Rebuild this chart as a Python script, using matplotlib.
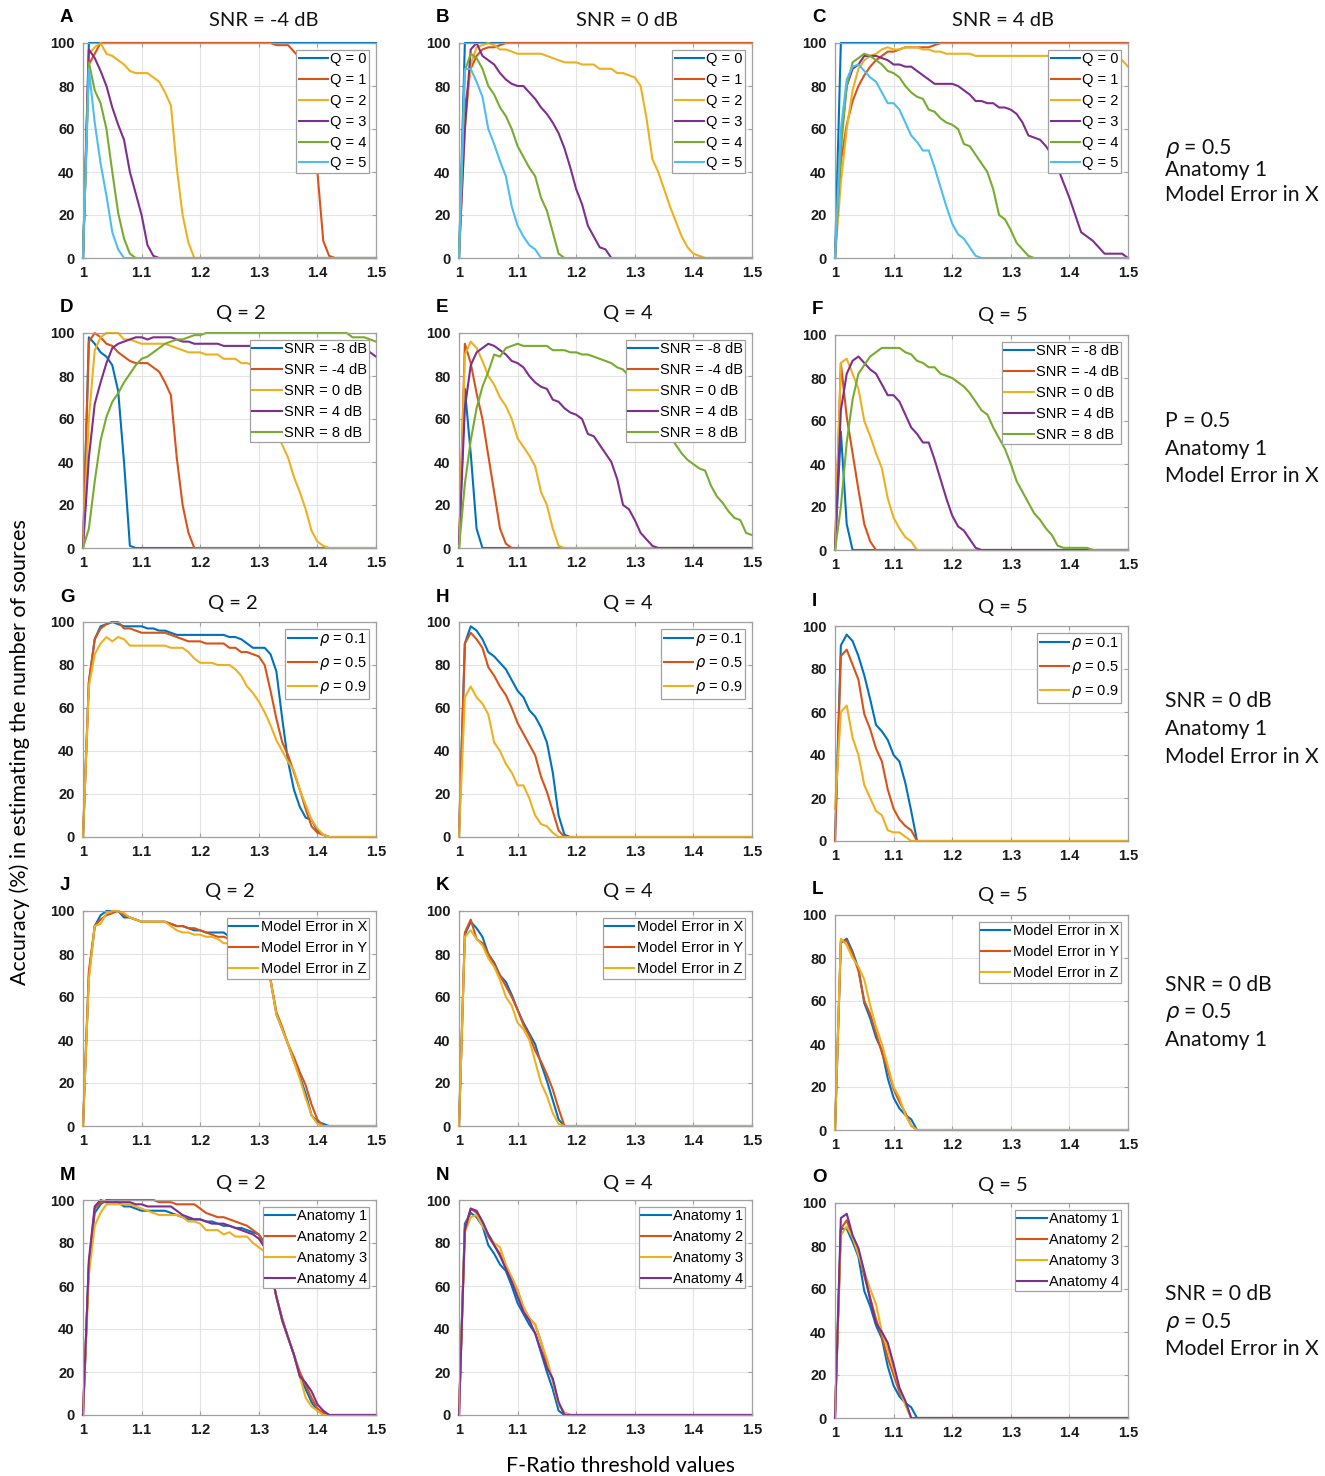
import numpy as np
import matplotlib
matplotlib.use('Agg')
import matplotlib.pyplot as plt

# F-ratio thresholds, read at 0.01 steps
thresholds = np.round(np.arange(1.00, 1.505, 0.01), 2)

# each list: accuracy (%) at 1.00, 1.01, ... ; last value holds to 1.50
# A: SNR = -4 dB
A_q0 = [0, 100]
A_q1 = [0, 90, 95] + [100] * 30 + [99, 99, 99, 96, 93, 85, 65, 40, 8, 1, 0]
A_q2 = [0, 95, 98, 100, 95, 94, 92, 90, 87, 86, 86, 86, 84, 82, 77, 71, 42, 20, 7, 0]
A_q3 = [0, 97, 93, 87, 80, 70, 62, 55, 40, 30, 20, 6, 1, 0]
A_q4 = [0, 91, 78, 72, 60, 40, 21, 9, 2, 0]
A_q5 = [0, 88, 63, 44, 29, 12, 4, 0]
# B: SNR = 0 dB
B_q0 = [0, 100]
B_q1 = [0, 70, 88, 94, 97, 98, 98, 99, 100]
B_q2 = [0, 60, 90, 98, 99, 100, 99, 97, 97, 96, 95, 95, 95, 95, 95, 94, 93, 92, 91, 91,
        91, 90, 90, 90, 88, 88, 88, 86, 86, 85, 84, 80, 65, 46, 40, 32, 24, 17, 10, 5, 2, 1, 0]
B_q3 = [2, 60, 97, 100, 94, 92, 90, 86, 83, 81, 80, 80, 77, 74, 70, 67, 63, 58, 51, 42,
        32, 25, 15, 10, 5, 4, 0]
B_q4 = [0, 87, 95, 93, 88, 80, 76, 70, 66, 60, 52, 47, 42, 38, 28, 22, 12, 2, 0]
B_q5 = [0, 88, 88, 82, 75, 60, 53, 45, 38, 24, 15, 10, 6, 4, 0]
# C: SNR = 4 dB
C_q0 = [0, 100]
C_q1 = [0, 45, 62, 73, 80, 85, 89, 92, 94, 96, 96, 97, 98, 98, 98, 98, 98, 99, 100]
C_q2 = [0, 35, 60, 78, 88, 92, 94, 95, 97, 98, 97, 97, 98, 98, 98, 97, 97, 96, 96, 95,
        95, 95, 95, 95, 94] + [94] * 23 + [93, 92, 89]
C_q3 = [0, 55, 80, 88, 90, 94, 94, 94, 93, 92, 90, 90, 89, 89, 87, 85, 83, 81, 81, 81,
        81, 80, 78, 76, 73, 73, 72, 72, 70, 70, 69, 67, 63, 57, 56, 55, 52, 48, 42, 35,
        28, 20, 12, 10, 8, 5, 2, 2, 2, 2, 0]
C_q4 = [0, 50, 80, 91, 93, 95, 94, 92, 90, 87, 86, 84, 80, 77, 75, 74, 69, 68, 65, 63,
        62, 60, 53, 52, 48, 44, 40, 32, 20, 18, 13, 7, 4, 1, 0]
C_q5 = [0, 60, 83, 89, 90, 87, 84, 82, 77, 72, 72, 69, 63, 57, 54, 50, 50, 42, 33, 24,
        16, 11, 9, 5, 1, 0]
# D: Q = 2
D_m8 = [0, 98, 95, 91, 89, 85, 73, 40, 1, 0]
D_m4 = [0, 96, 100, 98, 95, 94, 91, 89, 87, 86, 86, 86, 84, 82, 77, 71, 42, 20, 7, 0]
D_0 = [0, 60, 92, 98, 100, 100, 100, 97, 97, 96, 95, 95, 95, 95, 95, 94, 93, 92, 91, 91,
       91, 90, 90, 90, 88, 88, 88, 86, 86, 85, 84, 80, 68, 55, 48, 42, 33, 26, 18, 8, 3, 1, 0]
D_4 = [0, 42, 67, 77, 86, 93, 95, 96, 97, 98, 98, 97, 98, 98, 98, 98, 97, 96, 96, 95,
       95, 95, 95, 95, 94] + [94] * 21 + [93, 92, 92, 91, 89]
D_8 = [0, 9, 31, 50, 61, 68, 72, 77, 81, 85, 88, 89, 91, 93, 95, 96, 97, 97, 98, 99,
       99, 100] + [100] * 23 + [100, 98, 98, 98, 97, 96]
# E: Q = 4
E_m8 = [0, 74, 44, 9, 0]
E_m4 = [0, 95, 86, 72, 60, 43, 26, 9, 2, 0]
E_0 = [0, 90, 96, 93, 87, 80, 76, 70, 66, 60, 51, 47, 43, 38, 26, 20, 9, 1, 0]
E_4 = [2, 65, 85, 91, 93, 95, 94, 92, 90, 87, 86, 84, 80, 77, 75, 74, 69, 68, 65, 63,
       62, 60, 53, 52, 48, 44, 40, 32, 20, 18, 13, 7, 4, 1, 0]
E_8 = [0, 30, 50, 65, 75, 82, 90, 89, 93, 94, 95, 94, 94, 94, 94, 94, 92, 92, 92, 91,
       91, 90, 90, 89, 88, 87, 86, 84, 83, 80, 77, 73, 68, 64, 60, 56, 52, 48, 44, 41,
       39, 37, 36, 29, 24, 21, 17, 14, 13, 7, 6]
# F: Q = 5
F_m8 = [0, 55, 12, 0]
F_m4 = [0, 87, 62, 45, 28, 12, 4, 0]
F_0 = [0, 87, 89, 82, 75, 60, 53, 45, 38, 24, 15, 10, 6, 4, 0]
F_4 = [0, 65, 82, 88, 90, 87, 84, 82, 77, 72, 72, 69, 63, 57, 54, 50, 50, 42, 33, 24,
       16, 11, 9, 5, 1, 0]
F_8 = [0, 20, 50, 70, 82, 86, 90, 92, 94, 94, 94, 94, 92, 91, 88, 87, 85, 85, 82, 81,
       80, 78, 76, 73, 69, 65, 63, 57, 52, 47, 40, 32, 27, 22, 17, 14, 10, 7, 2, 1,
       1, 1, 1, 1, 0]
# G: Q = 2, correlation
G_01 = [0, 72, 92, 98, 99, 100, 99, 98, 98, 98, 98, 97, 97, 96, 96, 95, 94, 94, 94, 94,
        94, 94, 94, 94, 94, 93, 93, 92, 90, 88, 88, 88, 85, 77, 55, 35, 22, 14, 9, 8, 3, 1, 0]
G_05 = [0, 72, 92, 97, 99, 100, 100, 97, 97, 96, 95, 95, 95, 95, 95, 94, 93, 92, 91, 91,
        91, 90, 90, 90, 90, 88, 88, 86, 86, 85, 84, 80, 68, 55, 44, 38, 30, 22, 13, 5, 2, 1, 0]
G_09 = [0, 70, 85, 90, 93, 91, 93, 92, 89, 89, 89, 89, 89, 89, 89, 88, 88, 88, 86, 83,
        81, 81, 81, 80, 80, 80, 78, 75, 70, 67, 63, 58, 52, 45, 40, 35, 31, 22, 15, 8, 4, 1, 0]
# H: Q = 4
H_01 = [0, 90, 98, 96, 92, 86, 84, 81, 78, 73, 68, 65, 59, 56, 51, 44, 30, 10, 1, 0]
H_05 = [2, 90, 95, 92, 88, 79, 75, 70, 66, 60, 53, 48, 43, 38, 28, 21, 12, 3, 0]
H_09 = [0, 65, 70, 65, 62, 57, 44, 40, 34, 30, 24, 24, 18, 10, 6, 5, 2, 0]
# I: Q = 5
I_01 = [0, 91, 96, 93, 86, 77, 66, 54, 51, 47, 40, 37, 27, 14, 0]
I_05 = [0, 86, 89, 82, 75, 59, 52, 43, 37, 24, 15, 10, 7, 5, 0]
I_09 = [15, 60, 63, 48, 40, 26, 20, 14, 12, 5, 4, 4, 2, 0]
# J: Q = 2, model error
J_x = [0, 70, 93, 98, 100, 100, 100, 97, 97, 96, 95, 95, 95, 95, 95, 94, 93, 93, 92, 91,
       91, 90, 90, 90, 90, 88, 86, 85, 84, 82, 80, 76, 68, 52, 45, 38, 30, 23, 15, 5, 2, 1, 0]
J_y = [0, 72, 93, 96, 98, 99, 100, 98, 97, 96, 95, 95, 95, 95, 95, 94, 93, 93, 92, 92,
       91, 90, 89, 88, 88, 87, 86, 85, 84, 82, 80, 76, 68, 53, 46, 38, 32, 25, 19, 10, 3, 0]
J_z = [0, 68, 93, 94, 99, 100, 100, 99, 97, 96, 95, 95, 95, 95, 95, 93, 91, 90, 90, 89,
       89, 88, 88, 87, 85, 85, 84, 83, 82, 81, 79, 75, 68, 52, 45, 38, 30, 22, 13, 5, 1, 0]
# K: Q = 4
K_x = [0, 89, 95, 92, 88, 80, 76, 70, 67, 61, 54, 48, 43, 38, 29, 21, 12, 3, 0]
K_y = [0, 90, 96, 87, 85, 80, 75, 70, 65, 60, 54, 47, 42, 35, 30, 24, 17, 8, 0]
K_z = [0, 88, 91, 87, 84, 78, 74, 68, 60, 56, 48, 45, 40, 30, 20, 14, 6, 1, 0]
# L: Q = 5
L_x = [0, 87, 89, 83, 75, 59, 52, 43, 37, 24, 15, 10, 7, 5, 0]
L_y = [0, 88, 88, 82, 74, 60, 54, 45, 36, 28, 19, 13, 8, 2, 0]
L_z = [0, 89, 86, 80, 76, 70, 58, 48, 40, 30, 20, 15, 7, 2, 0]
# M: Q = 2, anatomy
M_1 = [0, 70, 94, 98, 100, 100, 99, 97, 97, 96, 95, 95, 95, 95, 95, 94, 93, 92, 91, 91,
       91, 90, 90, 89, 88, 88, 87, 87, 86, 85, 84, 80, 68, 55, 44, 36, 28, 18, 12, 6, 2, 1, 0]
M_2 = [0, 70, 96, 99, 99, 100, 100, 100, 100, 100, 100, 100, 100, 99, 99, 99, 98, 98, 98, 98,
       96, 94, 93, 92, 92, 91, 90, 89, 88, 86, 84, 78, 68, 55, 45, 36, 28, 20, 14, 8, 3, 1, 0]
M_3 = [0, 65, 88, 94, 98, 98, 98, 98, 98, 97, 96, 95, 94, 93, 93, 93, 93, 92, 90, 90,
       89, 86, 86, 86, 84, 85, 83, 83, 83, 80, 78, 76, 68, 55, 44, 36, 28, 18, 8, 4, 2, 0]
M_4 = [0, 72, 97, 100, 99, 99, 99, 99, 99, 98, 98, 97, 97, 97, 97, 97, 95, 93, 92, 91,
       91, 90, 89, 89, 89, 88, 87, 86, 85, 84, 82, 78, 68, 55, 44, 36, 28, 18, 15, 11, 5, 2, 0]
# N: Q = 4
N_1 = [0, 89, 94, 92, 88, 79, 75, 70, 67, 60, 52, 47, 42, 38, 29, 20, 12, 2, 0]
N_2 = [0, 87, 96, 94, 90, 83, 79, 75, 68, 64, 58, 50, 45, 42, 34, 24, 16, 5, 1, 0]
N_3 = [2, 85, 92, 93, 88, 84, 80, 78, 70, 64, 58, 50, 45, 42, 34, 26, 16, 5, 1, 0]
N_4 = [0, 86, 96, 95, 90, 84, 79, 74, 68, 62, 55, 48, 44, 38, 30, 22, 17, 6, 0]
# O: Q = 5
O_1 = [0, 88, 88, 82, 75, 59, 52, 43, 37, 24, 15, 10, 7, 5, 0]
O_2 = [0, 88, 92, 84, 77, 66, 56, 46, 38, 28, 20, 12, 7, 0]
O_3 = [2, 85, 89, 84, 76, 68, 60, 53, 40, 32, 23, 14, 6, 0]
O_4 = [0, 93, 95, 85, 79, 68, 55, 44, 40, 35, 25, 14, 8, 0]

q_labels = ['Q = 0', 'Q = 1', 'Q = 2', 'Q = 3', 'Q = 4', 'Q = 5']
snr_labels = ['SNR = -8 dB', 'SNR = -4 dB', 'SNR = 0 dB', 'SNR = 4 dB', 'SNR = 8 dB']
rho_labels = [r'$\rho$ = 0.1', r'$\rho$ = 0.5', r'$\rho$ = 0.9']
err_labels = ['Model Error in X', 'Model Error in Y', 'Model Error in Z']
anat_labels = ['Anatomy 1', 'Anatomy 2', 'Anatomy 3', 'Anatomy 4']
x_ticks = [1.0, 1.1, 1.2, 1.3, 1.4, 1.5]
x_ticklabels = ['1', '1.1', '1.2', '1.3', '1.4', '1.5']
y_ticks = [0, 20, 40, 60, 80, 100]

row_notes = [
    [r'$\rho$ = 0.5', 'Anatomy 1', 'Model Error in X'],
    ['P = 0.5', 'Anatomy 1', 'Model Error in X'],
    ['SNR = 0 dB', 'Anatomy 1', 'Model Error in X'],
    ['SNR = 0 dB', r'$\rho$ = 0.5', 'Anatomy 1'],
    ['SNR = 0 dB', r'$\rho$ = 0.5', 'Model Error in X'],
]

panels = [
    ('A', 'SNR = -4 dB', [A_q0, A_q1, A_q2, A_q3, A_q4, A_q5], q_labels),
    ('B', 'SNR = 0 dB', [B_q0, B_q1, B_q2, B_q3, B_q4, B_q5], q_labels),
    ('C', 'SNR = 4 dB', [C_q0, C_q1, C_q2, C_q3, C_q4, C_q5], q_labels),
    ('D', 'Q = 2', [D_m8, D_m4, D_0, D_4, D_8], snr_labels),
    ('E', 'Q = 4', [E_m8, E_m4, E_0, E_4, E_8], snr_labels),
    ('F', 'Q = 5', [F_m8, F_m4, F_0, F_4, F_8], snr_labels),
    ('G', 'Q = 2', [G_01, G_05, G_09], rho_labels),
    ('H', 'Q = 4', [H_01, H_05, H_09], rho_labels),
    ('I', 'Q = 5', [I_01, I_05, I_09], rho_labels),
    ('J', 'Q = 2', [J_x, J_y, J_z], err_labels),
    ('K', 'Q = 4', [K_x, K_y, K_z], err_labels),
    ('L', 'Q = 5', [L_x, L_y, L_z], err_labels),
    ('M', 'Q = 2', [M_1, M_2, M_3, M_4], anat_labels),
    ('N', 'Q = 4', [N_1, N_2, N_3, N_4], anat_labels),
    ('O', 'Q = 5', [O_1, O_2, O_3, O_4], anat_labels),
]

colors = ['#0072BD', '#D95319', '#EDB120', '#7E2F8E', '#77AC30', '#4DBEEE']
text_font = ['Lato', 'DejaVu Sans']

W, H = 1325, 1476
fig = plt.figure(figsize=(W / 100, H / 100), dpi=100)

col_left = [83, 459, 835]
row_top = [43, 333, 622, 911, 1200]
col3_shift = [0, 2, 4, 4, 3]
title_gap = [23, 19, 18, 19, 17]
title_dx = [[34, 22, 21], [11, 22, 21], [3, 22, 21], [0, 22, 21], [11, 22, 21]]
ax_w, ax_h = 293, 215


def curve(vals):
    n = len(vals)
    xs = list(thresholds[:n])
    ys = list(vals)
    if n < len(thresholds):
        xs.append(thresholds[-1])
        ys.append(vals[-1])
    return xs, ys


for i, (letter, title, series, labels) in enumerate(panels):
    r, c = divmod(i, 3)
    left = col_left[c]
    top = row_top[r] + (col3_shift[r] if c == 2 else 0)
    ax = fig.add_axes([left / W, 1 - (top + ax_h) / H, ax_w / W, ax_h / H])
    for k, vals in enumerate(series):
        xs, ys = curve(vals)
        ax.plot(xs, ys, color=colors[k], lw=1.5, label=labels[k], clip_on=False)
    ax.set_xlim(1.0, 1.5)
    ax.set_ylim(0, 100)
    ax.set_xticks(x_ticks)
    ax.set_xticklabels(x_ticklabels)
    ax.set_yticks(y_ticks)
    ax.grid(True, color='#e4e4e4', lw=0.8)
    ax.set_axisbelow(True)
    for sp in ax.spines.values():
        sp.set_color('#a0a0a0')
        sp.set_linewidth(0.9)
    ax.tick_params(direction='in', length=3, width=0.8, color='#a0a0a0',
                   top=True, right=True, pad=6)
    for lab in ax.get_xticklabels() + ax.get_yticklabels():
        lab.set_fontfamily('Liberation Sans')
        lab.set_fontweight('bold')
        lab.set_fontsize(10.5)
        lab.set_color('#1a1a1a')
    leg = ax.legend(loc='upper right',
                    prop={'family': 'Liberation Sans', 'size': 10.5},
                    frameon=True, fancybox=False, framealpha=1, edgecolor='#a0a0a0',
                    borderpad=0.18, labelspacing=0.47, handlelength=2.0,
                    handletextpad=0.15, borderaxespad=0.45)
    leg.get_frame().set_linewidth(0.9)
    cx = (left + ax_w / 2 + title_dx[r][c]) / W
    fig.text(cx, 1 - (top - title_gap[r]) / H, title, ha='center', va='center',
             fontsize=14.5, family=text_font, color='#111111')
    fig.text((left - 23) / W, 1 - (top - 25) / H, letter, ha='left', va='center',
             fontsize=13.5, fontweight='bold', family='Liberation Sans')

note_y = [[148, 170, 195], [421, 449, 476], [701, 729, 757],
          [985, 1012, 1040], [1294, 1322, 1349]]
for notes, ys in zip(row_notes, note_y):
    for txt, y in zip(notes, ys):
        fig.text(1165 / W, 1 - y / H, txt, ha='left', va='center',
                 fontsize=15.2, family=text_font, color='#111111')

fig.text(20 / W, 1 - 752 / H, 'Accuracy (%) in estimating the number of sources',
         rotation=90, ha='center', va='center', fontsize=15.5, family=text_font)
fig.text(620 / W, 1 - 1466 / H, 'F-Ratio threshold values', ha='center', va='center',
         fontsize=15.4, family=text_font)

fig.savefig('out.png', dpi=100)
